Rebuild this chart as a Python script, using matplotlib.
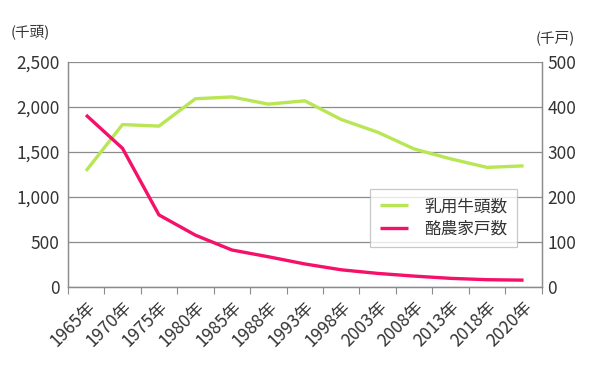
import matplotlib
matplotlib.use('Agg')
import matplotlib.pyplot as plt

plt.rcParams['font.family'] = ['Noto Sans CJK JP', 'DejaVu Sans']

# 乳用牛頭数(千頭) と 酪農家戸数(千戸)
years = ['1965年', '1970年', '1975年', '1980年', '1985年', '1988年', '1993年',
         '1998年', '2003年', '2008年', '2013年', '2018年', '2020年']
cattle = [1289, 1804, 1787, 2091, 2111, 2031, 2068, 1860, 1719, 1533, 1423, 1328, 1345]
farms = [382, 308, 160, 115, 82, 67, 51, 38, 30, 24, 19, 16, 15]

green = '#b8e655'
pink = '#f5106a'
gray = '#8c8c8c'
txt = '#333333'

fig = plt.figure(figsize=(6, 3.8), dpi=100)
ax = fig.add_axes([0.113, 0.245, 0.79, 0.592])
ax2 = ax.twinx()

x = list(range(len(years)))
l1, = ax.plot(x, cattle, color=green, lw=2.4, solid_capstyle='butt', label='乳用牛頭数')
l2, = ax2.plot(x, farms, color=pink, lw=2.4, solid_capstyle='butt', label='酪農家戸数')

ax.set_xlim(-0.5, len(years) - 0.5)
ax.set_ylim(0, 2500)
ax2.set_ylim(0, 500)
ax.set_yticks(range(0, 2501, 500))
ax.set_yticklabels([f'{v:,}' for v in range(0, 2501, 500)])
ax2.set_yticks(range(0, 501, 100))

ax.yaxis.grid(True, color=gray, lw=0.9)
ax.set_axisbelow(True)

ax.set_xticks([i - 0.5 for i in range(len(years) + 1)], minor=False)
ax.set_xticklabels([])
ax.set_xticks(x, minor=True)
ax.set_xticklabels(years, minor=True, rotation=45, ha='right', va='top',
                   rotation_mode='anchor', fontsize=12.5, color=txt)
ax.tick_params(axis='x', which='minor', length=0, pad=8)
ax.tick_params(axis='x', which='major', length=5, color=gray)
ax.tick_params(axis='y', length=0, labelsize=12.5, colors=txt, pad=6)
ax2.tick_params(axis='y', length=0, labelsize=12.5, colors=txt, pad=4)

for a in (ax, ax2):
    a.spines['top'].set_visible(False)
    for s in ('left', 'right', 'bottom'):
        a.spines[s].set_color(gray)
        a.spines[s].set_linewidth(0.9)

fig.text(0.018, 0.905, '(千頭)', fontsize=10.5, color=txt)
fig.text(0.893, 0.89, '(千戸)', fontsize=10.5, color=txt)

leg = ax.legend(handles=[l1, l2], loc='lower right', bbox_to_anchor=(0.965, 0.14),
                fontsize=12, frameon=True, fancybox=False, handlelength=1.7,
                borderpad=0.55, labelspacing=0.35, handletextpad=1.0)
leg.get_frame().set_edgecolor('#bbbbbb')
leg.get_frame().set_linewidth(0.9)
for t in leg.get_texts():
    t.set_color(txt)

fig.savefig('out.png', dpi=100)
